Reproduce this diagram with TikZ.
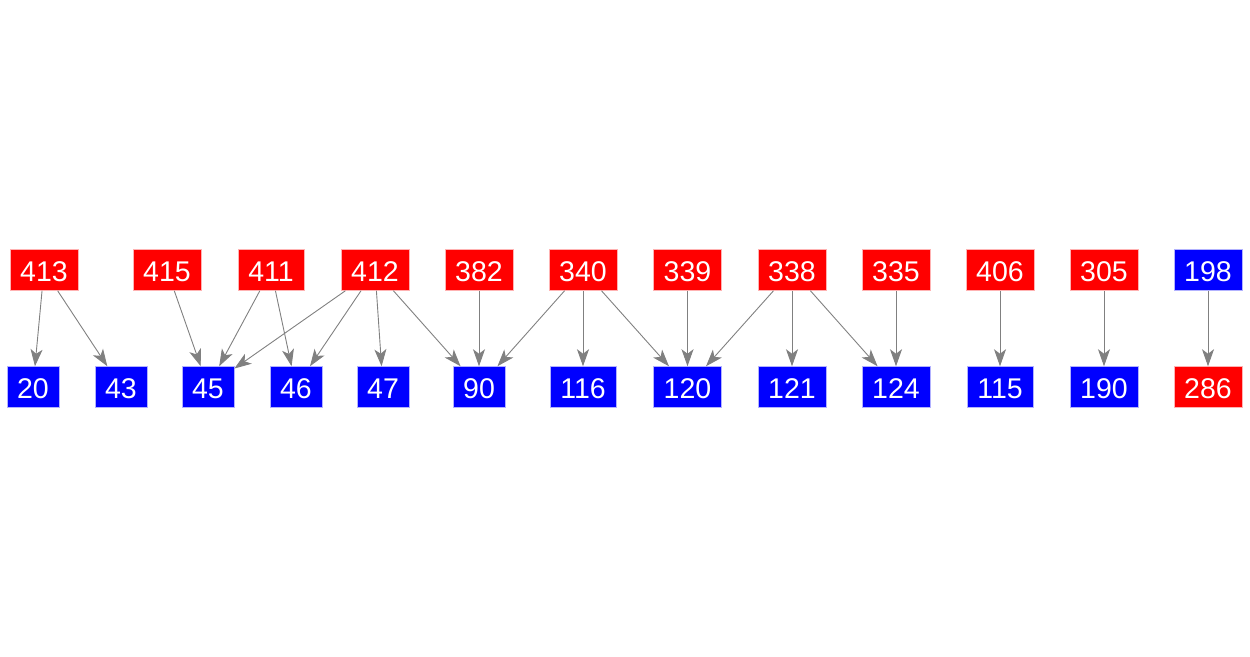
\documentclass[tikz,border=0pt]{standalone}
\usepackage{fontspec}
\setmainfont{Liberation Sans}
\usetikzlibrary{arrows.meta}
\begin{document}
\begin{tikzpicture}[x=1pt,y=-1pt,
        box/.style={rectangle,draw=white!70!#1,line width=0.5pt,fill=#1,text=white,
          font=\fontsize{28.5}{28.5}\selectfont,inner xsep=10.3pt,inner ysep=9.5pt,
          text height=22pt,text depth=0pt},
        up/.style={box=red},
        down/.style={box=blue},
        link/.style={draw=gray,line width=0.9pt,-{Stealth[length=17pt,width=12pt,inset=4.5pt]}}]
        \useasboundingbox (0,0) rectangle (1250,656);
        \node[up] (n413) at (44,270) {413};
        \node[up] (n415) at (167,270) {415};
        \node[up] (n411) at (271,270) {411};
        \node[up] (n412) at (375,270) {412};
        \node[up] (n382) at (479,270) {382};
        \node[up] (n340) at (583,270) {340};
        \node[up] (n339) at (687.5,270) {339};
        \node[up] (n338) at (792,270) {338};
        \node[up] (n335) at (896,270) {335};
        \node[up] (n406) at (1000,270) {406};
        \node[up] (n305) at (1104,270) {305};
        \node[down] (n198) at (1208,270) {198};
        \node[down] (n20) at (33,387) {20};
        \node[down] (n43) at (121,387) {43};
        \node[down] (n45) at (208,387) {45};
        \node[down] (n46) at (296,387) {46};
        \node[down] (n47) at (383,387) {47};
        \node[down] (n90) at (479,387) {90};
        \node[down] (n116) at (583,387) {116};
        \node[down] (n120) at (687.5,387) {120};
        \node[down] (n121) at (792,387) {121};
        \node[down] (n124) at (896,387) {124};
        \node[down] (n115) at (1000,387) {115};
        \node[down] (n190) at (1104,387) {190};
        \node[up] (n286) at (1208,387) {286};
        \foreach \a/\b in {413/20,413/43,415/45,411/45,411/46,412/45,412/46,412/47,
            412/90,382/90,340/90,340/116,340/120,339/120,338/120,338/121,338/124,
            335/124,406/115,305/190,198/286}
          \draw[link] (n\a) -- (n\b);
      \end{tikzpicture}
\end{document}
